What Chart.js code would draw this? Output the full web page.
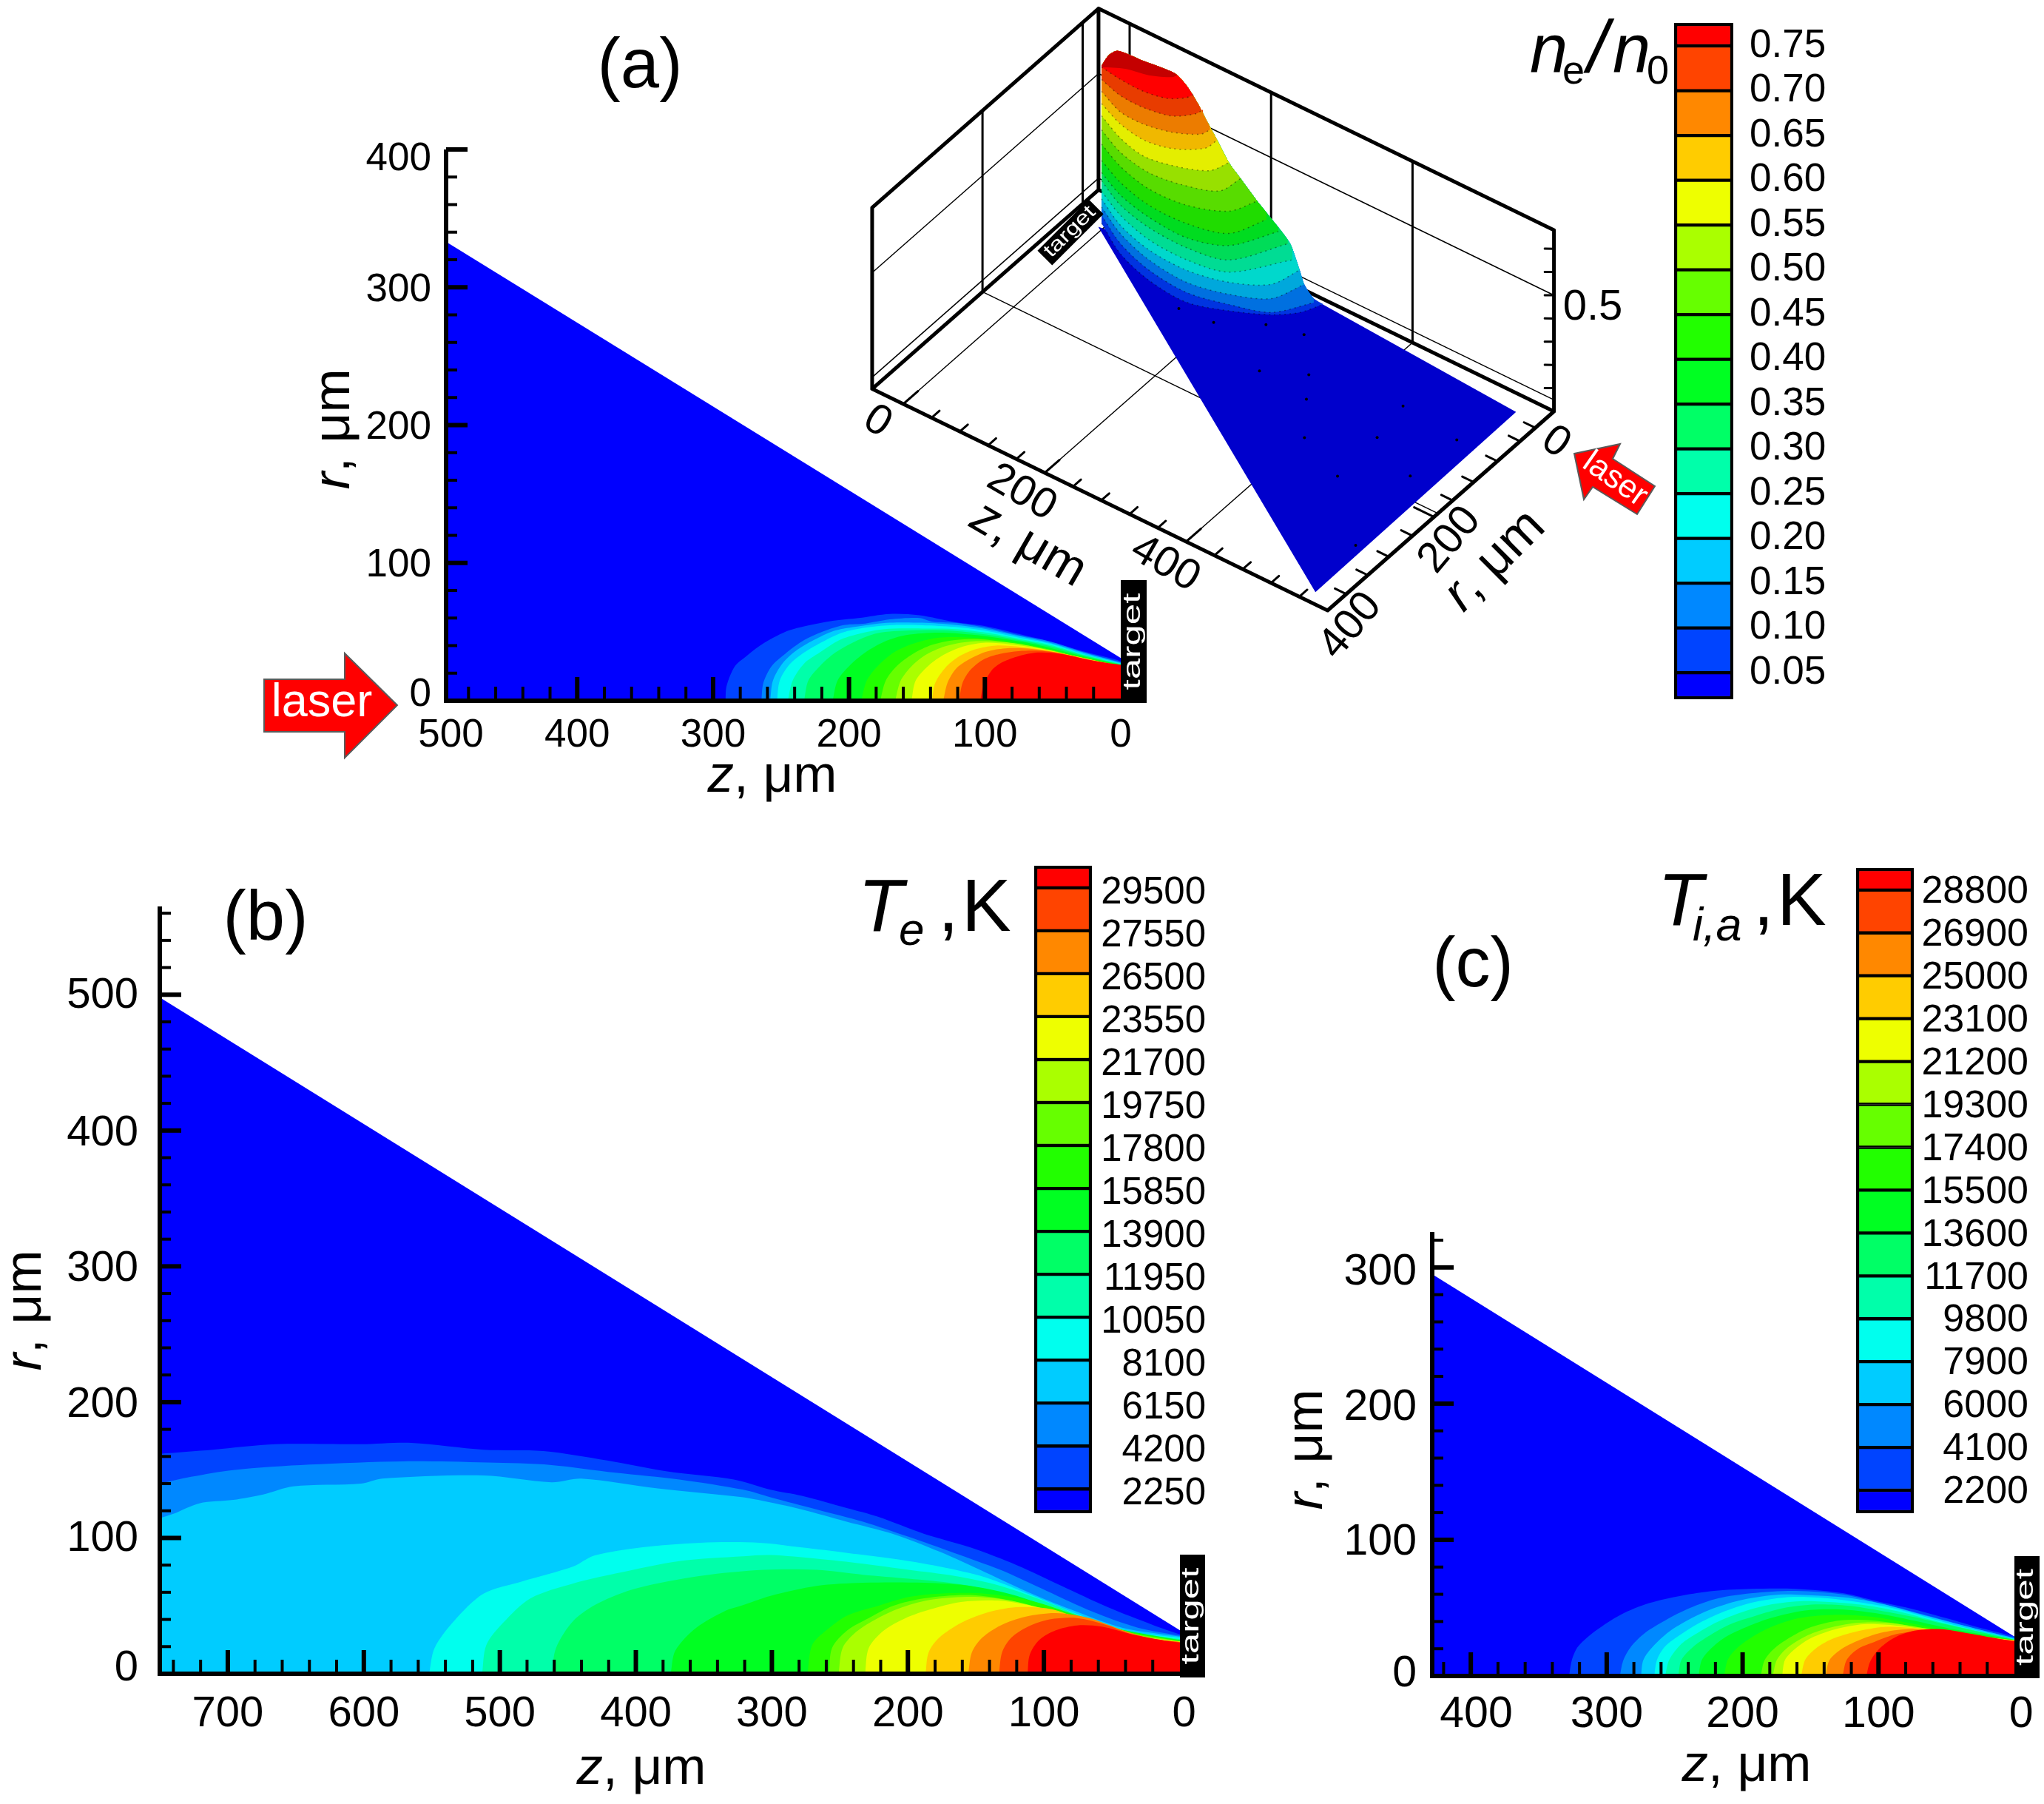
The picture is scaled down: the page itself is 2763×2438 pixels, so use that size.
<!DOCTYPE html>
<html>
<head>
<meta charset="utf-8">
<style>
  html, body { margin: 0; padding: 0; background: #fff; }
  #page { position: relative; width: 2763px; height: 2438px; overflow: hidden; }
  canvas { position: absolute; left: 0; top: 0; }
</style>
<script src="https://cdn.jsdelivr.net/npm/chart.js@4/dist/chart.umd.min.js"></script>
</head>
<body>
<div id="page"></div>
<script>
const W = 2763, H = 2438;
const FONT = '"Liberation Sans", Arial, sans-serif';

// colour bands, low to high
const bandColors = ["#0000ff", "#0044ff", "#0088ff", "#00ccff", "#00ffee", "#00ffaa", "#00ff66", "#00ff22",
    "#22ff00", "#66ff00", "#aaff00", "#eeff00", "#ffcc00", "#ff8800", "#ff4400", "#ff0000"];
const shadedColors = ["#0000cc", "#0034e0", "#0070e0", "#00a8dc", "#00d8cc", "#00dc94", "#00dc58", "#00dc20",
    "#20dc00", "#58dc00", "#98e000", "#e4ee00", "#f0b800", "#ec7c00", "#e83c00", "#ff0000", "#c40000"];

// colour bar labels, top to bottom
const neLabels = ["0.75", "0.70", "0.65", "0.60", "0.55", "0.50", "0.45", "0.40", "0.35", "0.30", "0.25", "0.20", "0.15", "0.10", "0.05"];
const teLabels = ["29500", "27550", "26500", "23550", "21700", "19750", "17800", "15850", "13900", "11950", "10050", "8100", "6150", "4200", "2250"];
const tiLabels = ["28800", "26900", "25000", "23100", "21200", "19300", "17400", "15500", "13600", "11700", "9800", "7900", "6000", "4100", "2200"];

// panel (a): edge of the domain and contour edges [z, r], one list per level from 0044ff up
const neEdge = [[496.5, 333], [0, 31]];
const neContours = [
    [[291,0],[290,11],[284,25],[276,32],[264,41],[247,50],[233,54],[212,58],[193,60],[170,63],[148,62],[122,57],[99,54],[75,48.5],[52,43],[28,36],[4,30],[0,28.5]],
    [[264.5,0],[263,13],[257,25],[247,34],[233,44],[217,51],[203,55],[188,56],[170,59],[148,60],[139,57.5],[122,56.5],[99,53],[75,47.5],[52,43],[28,35.5],[4,29],[0,28]],
    [[258,0],[256,14.5],[249,27],[238,37],[224,45],[210,51],[193,54],[170,56.6],[146,56.6],[122,55],[99,52],[75,47],[52,42],[28,35],[0,27.5]],
    [[253,0],[251,14.5],[244,26],[233,35],[219,43],[205,49.4],[188,53],[170,54.8],[146,54.8],[122,53.5],[99,50.7],[75,45.8],[52,41.3],[28,34],[0,27]],
    [[245,0],[241.5,14.5],[233,27],[221.5,35],[207,44],[193,48.5],[174,52],[146,52.4],[122,52],[99,49.4],[75,45],[52,40.5],[28,33.6],[0,26.7]],
    [[233,0],[230,14.5],[221.5,25],[210,35],[195.5,43],[179,49],[155,51],[127,51],[99,48],[75,44],[52,39.6],[28,33],[0,26.3]],
    [[212,0],[208.5,14.5],[200,25],[188,35],[174,42.8],[158,47.6],[134,49.4],[110.5,48],[87,45],[63,41],[28,32.4],[0,26]],
    [[191,0],[187,14.5],[179,25],[167,35],[153,41.3],[134,45.8],[110.5,45.8],[87,43.7],[63,39.6],[28,31.5],[0,25.8]],
    [[177,0],[173,14.5],[165,25],[153,34],[139,40.5],[122,44],[103,44.6],[80,41.7],[52,37],[28,30.6],[0,25.6]],
    [[166,0],[162,14.5],[154,25],[144,33],[129,39.6],[110.5,43],[89,42.8],[68,40],[44,34.5],[0,25]],
    [[154,0],[151,14.5],[142,25],[132,32.4],[118,38.7],[101,42],[82,41],[59,37.8],[37,33],[0,25]],
    [[139,0],[136.5,13],[129,24],[120,31.5],[108,37],[92,40],[73,39],[52,36],[30,31.7],[0,25]],
    [[130.6,0],[127.5,13],[121,23.5],[110.5,30.6],[99,35.6],[85,38],[68,37.8],[47,35],[28,30.6],[0,25]],
    [[119,0],[116.4,13],[110.5,22.5],[101,30],[89,34],[75,36],[56,36],[37,32.8],[21,29],[0,25]],
    [[103.4,0],[101,11],[95,22],[87,28],[75,32.4],[61,35],[44.4,34],[28,30.6],[14,28],[0,26]]
];

// panel (b)
const teEdge = [[750, 498], [0, 32]];
const teContours = [
    [[750,162],[711,165],[665,169],[602,169],[565,170],[512,165],[468,164],[421,157],[377,149],[328,143],[301,135.5],[278,131],[245,122],[222,115.6],[188,103],[154,93],[120,80],[87,64.7],[53,49],[19,35.6],[0,29]],
    [[750,140],[727,145],[696,150],[640,154],[571,156.4],[509,155.5],[462,153.7],[415,148],[368,143],[321,135.5],[301,130],[267,121],[233,112],[200,101],[166,89],[132,76.5],[98,61],[64,45.6],[30.5,33.8],[0,28]],
    [[750,114.6],[739.5,118],[721,125.5],[696,128],[674,132],[652,138],[602,140],[586.6,143.7],[512,146],[462,141],[440,143.7],[384,136.5],[321,130],[310,128],[278,121],[245,112],[211,103],[177,90],[143,74.7],[109,59],[75.6,45.6],[42,33.8],[0,27.4]],
    [[552,0],[548,19],[533.6,39],[512,59],[483.6,68],[446,79],[430.6,87],[396,93],[352.6,96.5],[309,96.5],[278,93],[244.5,89],[211,84.7],[177,79],[143,71],[109.4,58],[75.6,44],[42,32],[0,26.5]],
    [[513,0],[510,21],[497.7,37.4],[477.4,55.6],[446,66.5],[415,73.8],[368,83],[321,86.5],[301,87.4],[267,84.7],[233,81],[199.5,76.5],[165.7,72],[132,64.7],[98,52.9],[64,39],[30.5,30],[0,25.6]],
    [[461.8,0],[458.7,19],[446,39],[427.5,52],[399.4,62.9],[352.6,72],[305.8,76.5],[267,76.5],[233,72.9],[199.5,70],[165.7,66.5],[132,60],[98,49],[64,37.4],[30.5,29],[0,25]],
    [[374.4,0],[371,17],[355.7,33.8],[334,46.5],[323,50],[301,57.4],[267,64.7],[233,67],[188,67],[154,64.7],[120,57.4],[87,45.6],[53,34.7],[0,24.7]],
    [[273.8,0],[270.5,21],[260,32],[244.5,42.9],[222,50],[199.5,56.5],[177,59],[143,59],[109.4,53.8],[75.6,42.9],[42,32],[0,24]],
    [[258,0],[255.8,19],[244.5,32],[228.8,41],[211,50],[188,55.6],[154,58],[120,52.9],[87,42],[42,31],[0,24]],
    [[251,0],[248,19],[237.8,31],[222,41],[204,49],[181.5,54.7],[147.7,56.5],[116,52],[80,40],[42,30],[0,23.8]],
    [[231.5,0],[228.8,19],[217.5,32],[201.7,41],[183.7,47.4],[161,52.9],[131.9,53.8],[98,47.4],[64,35.6],[30.5,27.4],[0,23.6]],
    [[187,0],[184.8,15.6],[177,26.5],[161,37.4],[143,44.7],[120.6,49],[93.6,47.4],[64,36.5],[30.5,26.9],[0,23.6]],
    [[155.6,0],[153,15.6],[145.4,26.5],[131.9,35.6],[113.9,42],[91,44.7],[66.6,41],[41.8,32],[19,25.6],[0,23.4]],
    [[133,0],[130.8,15.6],[124,26.5],[111.6,34.7],[95.8,40],[75.6,41],[53,35.6],[30.5,27.4],[0,23.3]],
    [[112,0],[110.5,13.8],[103.7,24.7],[91.3,32],[75.6,35.6],[57.5,34.7],[35,29],[12.5,24.7],[0,22.9]]
];

// panel (c)
const tiEdge = [[428.4, 295], [0, 29]];
const tiContours = [
    [[327.7,0],[325.6,11.8],[321,21.7],[307.7,33.5],[289.7,45],[268.8,53.5],[245,59],[221,62.5],[194,64],[161,64],[125.5,60.7],[101.6,55],[77.7,49.8],[50.9,42.6],[24,35],[0,29]],
    [[290.3,0],[288,10.9],[282,21.7],[271.8,31.7],[257,40.8],[239,49.8],[218,57],[194,60.7],[161,62.5],[125.5,59.8],[101.6,54],[77.7,48],[50.9,40.8],[24,33.5],[0,28]],
    [[274.8,0],[273,11.8],[265.9,21.7],[254,32.6],[239,41.7],[221,49.8],[200,56],[173,59.8],[143,58.9],[119.5,57],[95.6,52.5],[71.8,46],[45,39],[0,27.7]],
    [[265,0],[263,11.8],[257,21.7],[245,30.8],[230,39.9],[212,48],[191,54.4],[164,58],[137.5,57],[113.6,54],[89.7,49.8],[65.8,43.5],[42,37],[0,27]],
    [[257,0],[254,11.8],[245,23.6],[233,31.7],[218,39.9],[200,47],[179,52.5],[155,55],[131.5,54],[107.6,51.6],[83.7,47],[59.8,40.8],[36,35],[0,26.8]],
    [[247.3,0],[245,11.8],[236,21.7],[224,29.9],[209,38],[191,44],[170,49.8],[146.4,52.5],[122.5,51.6],[98.6,48],[74.7,43.5],[50.9,38],[0,26.6]],
    [[232.4,0],[230,11.8],[222.6,20.8],[212,29],[197,36],[179,42.6],[155,48],[128.5,48.9],[101.6,46],[74.7,40.8],[45,34.4],[0,26.6]],
    [[213.6,0],[211,11.8],[204.6,20],[194,28],[179,36],[158,42.6],[131.5,45],[104.6,43.5],[77.7,39],[45,32.6],[0,26.5]],
    [[186.7,0],[183.7,11.8],[176,20.8],[164,29],[149.4,36],[128.5,40.8],[104.6,40.8],[77.7,37],[45,31.7],[0,26.3]],
    [[177.8,0],[174.8,11.8],[167,20.8],[154,29],[137.5,35],[116.5,39],[92.7,39],[65.8,35],[36,29.9],[0,26.3]],
    [[170.9,0],[168.8,11.8],[161.3,20],[149.4,28],[131.5,34.4],[110.6,38],[86.7,37],[59.8,33.5],[30,29],[0,26.3]],
    [[156.9,0],[154,11.8],[146.4,20],[134.5,27],[116.5,32.6],[95.6,36],[71.8,35],[45,31.7],[0,26]],
    [[139,0],[136,11.8],[127,20],[115,26],[98.6,31.7],[77.7,34.4],[53.9,32.6],[30,29],[0,26]],
    [[126.4,0],[123.4,11.8],[115,20],[103,25],[86.7,30.8],[68.8,32.6],[45,30.8],[21,28],[0,25.9]],
    [[109,0],[106,10.9],[98.6,20.8],[86.7,29],[71.8,33.5],[53.9,34.4],[36,31.7],[15,28],[0,25.4]]
];

// axis ticks, all panels count in um
const zMajorA = [400, 300, 200, 100], zMinorA = [480, 460, 440, 420, 380, 360, 340, 320, 280, 260, 240, 220, 180, 160, 140, 120, 80, 60, 40, 20];
const rMajorA = [100, 200, 300, 400], rMinorA = [20, 40, 60, 80, 120, 140, 160, 180, 220, 240, 260, 280, 320, 340, 360, 380];
const zMajorB = [700, 600, 500, 400, 300, 200, 100], zMinorB = [740, 720, 680, 660, 640, 620, 580, 560, 540, 520, 480, 460, 440, 420, 380, 360, 340, 320, 280, 260, 240, 220, 180, 160, 140, 120, 80, 60, 40, 20];
const rMajorB = [100, 200, 300, 400, 500], rMinorB = [20, 40, 60, 80, 120, 140, 160, 180, 220, 240, 260, 280, 320, 340, 360, 380, 420, 440, 460, 480, 520, 540, 560];
const zMajorC = [400, 300, 200, 100], zMinorC = [420, 380, 360, 340, 320, 280, 260, 240, 220, 180, 160, 140, 120, 80, 60, 40, 20];
const rMajorC = [100, 200, 300], rMinorC = [20, 40, 60, 80, 120, 140, 160, 180, 220, 240, 260, 280, 320];

// 3D inset of panel (a): floor triangle [z, r], ridge top line and band edges [z, n] on the r = 30 plane
const floorTop = [[-6, 48], [279, 7], [566, 24.5]];
const floorBottom = [[-6, 48], [570, 384], [566, 24.5]];
const ridgeTop = [[-17,.632],[-5.7,.70],[7.6,.739],[44.3,.749],[87.7,.761],[104.3,.734],[121,.678],[134,.62],[147.7,.563],[164.4,.49],[181,.446],[204.4,.384],[234.4,.315],[251,.27],[264.4,.176],[271,.124],[284.4,.083],[297.8,.078]];
const ridgeBands = [
    [[-15.7,-.038],[11,-.13],[51,-.184],[104.3,-.2],[164.4,-.148],[224.4,-.076],[264.4,-.007],[297.8,.078]],
    [[-15.7,-.003],[11,-.086],[51,-.14],[104.3,-.158],[164.4,-.121],[224.4,-.066],[284.4,.065]],
    [[-15.7,.032],[11,-.043],[51,-.096],[104.3,-.114],[164.4,-.077],[224.4,-.006],[271,.124]],
    [[-15.7,.067],[11,-.007],[51,-.053],[104.3,-.062],[164.4,-.025],[224.4,.055],[264.4,.176]],
    [[-15.7,.10],[11,.036],[51,-.009],[104.3,-.017],[164.4,.019],[254.4,.205]],
    [[-15.7,.145],[11,.08],[51,.043],[104.3,.035],[164.4,.071],[247.7,.264]],
    [[-15.7,.18],[11,.123],[51,.087],[104.3,.078],[164.4,.133],[234.4,.297]],
    [[-15.7,.232],[11,.177],[51,.139],[104.3,.139],[164.4,.185],[217.7,.324]],
    [[-15.7,.303],[11,.246],[51,.209],[104.3,.218],[164.4,.281],[204.4,.384]],
    [[-15.7,.364],[11,.307],[51,.279],[97.6,.296],[151,.348],[181,.446]],
    [[-15.7,.425],[11,.368],[44.3,.339],[91,.364],[137.6,.416],[164.4,.49]],
    [[-15.7,.477],[11,.429],[44.3,.409],[84.3,.432],[131,.503],[147.7,.562]],
    [[-15.7,.53],[11,.481],[44.3,.477],[84.3,.502],[124.3,.553],[137.6,.591]],
    [[-15.7,.581],[11,.551],[44.3,.548],[84.3,.572],[117.6,.631],[127.6,.663]],
    [[-15.7,.634],[11,.621],[44.3,.618],[77.6,.638],[104.3,.681],[114.3,.71]],
    [[-15.7,.634],[17.6,.676],[51,.698],[84.3,.739],[91,.757]]
];
const floorDots = [[290,133],[339,107],[362,140],[457,88],[400,191],[466,145],[541,98],[470,220],[536,174],[558,298],[248,69],[293,58],[198,99],[152,103]];
const zGrid3d = [0, 200, 400];
const rGrid3d = [28, 205];
const zTicks3d = [0, 40, 80, 120, 160, 200, 240, 280, 320, 360, 400, 440, 480, 520, 560];
const rTicks3d = [33, 60, 100, 142, 179, 212, 250, 292, 329, 367];
const nTicks3d = [.1, .2, .3, .4, .5, .6, .7];

const z0 = -44, z1 = 600, r0 = 0, r1 = 400, n1 = .78;

// view of the inset box, page pixels per data unit
function project(z, r, n) {
    return { x: 1527 + .956 * z - .765 * r, y: 277 + .465 * z + .6725 * r - 314 * n };
}

function segments(list) {
    const out = [];
    list.forEach(seg => {
        seg.forEach(p => out.push(project(p[0], p[1], p[2])));
        out.push({ x: null, y: null });
    });
    return out;
}

function pageCanvas() {
    const c = document.createElement("canvas");
    c.width = W;
    c.height = H;
    document.getElementById("page").appendChild(c);
    return c;
}

function textRuns(ctx, runs, cx, cy, angle, color) {
    ctx.save();
    ctx.translate(cx, cy);
    ctx.rotate((angle || 0) * Math.PI / 180);
    ctx.fillStyle = color || "#000";
    ctx.textBaseline = "middle";
    ctx.textAlign = "left";
    let total = 0;
    runs.forEach(r => { ctx.font = r.font; total += ctx.measureText(r.t).width; });
    let x = -total / 2;
    runs.forEach(r => {
        ctx.font = r.font;
        ctx.fillText(r.t, x, 0);
        x += ctx.measureText(r.t).width;
    });
    ctx.restore();
}

function rUnit(size) {
    return [{ t: "r", font: "italic " + size + "px " + FONT }, { t: ", μm", font: size + "px " + FONT }];
}

function zUnit(size) {
    return [{ t: "z", font: "italic " + size + "px " + FONT }, { t: ", μm", font: size + "px " + FONT }];
}

function plain(ctx, t, x, y, font, align) {
    ctx.font = font;
    ctx.textAlign = align || "left";
    ctx.textBaseline = "alphabetic";
    ctx.fillStyle = "#000";
    ctx.fillText(t, x, y);
}

function targetBox(ctx, left, top, right, bottom) {
    ctx.fillStyle = "#000";
    ctx.fillRect(left, top, right - left, bottom - top);
    ctx.save();
    ctx.translate((left + right) / 2, (top + bottom) / 2);
    ctx.rotate(-Math.PI / 2);
    ctx.scale(1.55, 1);
    ctx.font = "33px " + FONT;
    ctx.textAlign = "center";
    ctx.textBaseline = "middle";
    ctx.fillStyle = "#fff";
    ctx.fillText("target", 0, -1);
    ctx.restore();
}

function arrow(ctx, pts) {
    ctx.beginPath();
    pts.forEach((p, i) => i ? ctx.lineTo(p[0], p[1]) : ctx.moveTo(p[0], p[1]));
    ctx.closePath();
    ctx.fillStyle = "#ff0000";
    ctx.fill();
    ctx.lineWidth = 2;
    ctx.strokeStyle = "#5a5a5a";
    ctx.stroke();
}

function contourChart(area, opts) {
    const xScale = {
        type: "linear", reverse: true, min: 0, max: opts.zMax,
        grid: { display: false, drawTicks: false }, border: { display: false },
        ticks: {
            font: { family: FONT, size: opts.fontSize }, color: "#000", autoSkip: false, maxRotation: 0, padding: opts.xPad,
            callback: (v, i) => opts.zLabels[i]
        },
        afterBuildTicks: axis => { axis.ticks = opts.zLabelAt.map(v => ({ value: v })); },
        afterFit: axis => { axis.height = 100; axis.paddingLeft = 0; axis.paddingRight = 0; }
    };
    const yScale = {
        type: "linear", min: 0, max: opts.rMax,
        grid: { display: false, drawTicks: false }, border: { display: false },
        ticks: {
            font: { family: FONT, size: opts.fontSize }, color: "#000", autoSkip: false, padding: opts.yPad,
            callback: (v, i) => opts.rLabels[i]
        },
        afterBuildTicks: axis => { axis.ticks = opts.rLabelAt.map(v => ({ value: v })); },
        afterFit: axis => { axis.width = 150; axis.paddingTop = 0; axis.paddingBottom = 0; }
    };

    const datasets = [{
        data: opts.edge.map(p => ({ x: p[0], y: p[1] })),
        backgroundColor: bandColors[0], fill: "origin", borderWidth: 0, pointRadius: 0, tension: 0, order: 100
    }];
    opts.contours.forEach((level, i) => {
        datasets.push({
            data: level.map(p => ({ x: p[0], y: p[1] })),
            backgroundColor: bandColors[i + 1], fill: "origin", borderWidth: 0, pointRadius: 0, tension: .3, order: 99 - i
        });
    });

    const frame = {
        id: "frame",
        afterDatasetsDraw(chart) {
            const ctx = chart.ctx, xs = chart.scales.x, ys = chart.scales.y, ca = chart.chartArea;
            const hTick = (v, len, w) => {
                const y = ys.getPixelForValue(v);
                ctx.lineWidth = w;
                ctx.beginPath(); ctx.moveTo(ca.left, y); ctx.lineTo(ca.left + len, y); ctx.stroke();
            };
            const vTick = (v, len, w) => {
                const x = xs.getPixelForValue(v);
                ctx.lineWidth = w;
                ctx.beginPath(); ctx.moveTo(x, ca.bottom); ctx.lineTo(x, ca.bottom - len); ctx.stroke();
            };
            ctx.save();
            ctx.strokeStyle = "#000";
            opts.zMinor.forEach(v => vTick(v, 19, 4));
            opts.zMajor.forEach(v => vTick(v, 32, 6));
            opts.rMinor.forEach(v => hTick(v, 15, 4));
            opts.rMajor.forEach(v => hTick(v, 29, 6));
            ctx.lineWidth = 6;
            ctx.beginPath();
            ctx.moveTo(ca.left, ca.top);
            ctx.lineTo(ca.left, ca.bottom);
            ctx.lineTo(ca.right, ca.bottom);
            ctx.stroke();
            ctx.restore();
        },
        afterDraw(chart) { opts.overlay(chart.ctx); }
    };

    return new Chart(pageCanvas(), {
        type: "line",
        data: { datasets },
        plugins: [frame],
        options: {
            responsive: false, animation: false, devicePixelRatio: 1,
            layout: {
                autoPadding: false,
                padding: { left: area.left - 150, right: W - area.right, top: area.top, bottom: H - area.bottom - 100 }
            },
            plugins: { legend: { display: false }, tooltip: { enabled: false } },
            scales: { x: xScale, y: yScale }
        }
    });
}

function colorBar(box, labels, colors, ymin, ymax, align, pad, size, labelWidth, shift) {
    const datasets = colors.map((c, i) => ({
        data: [[i === 0 ? ymin : i - 1, i === colors.length - 1 ? ymax : i]],
        backgroundColor: c, borderColor: "#000", borderWidth: 2.5, borderSkipped: false,
        barPercentage: 1, categoryPercentage: 1, grouped: false
    }));
    const frame = {
        id: "barFrame",
        afterDatasetsDraw(chart) {
            const ctx = chart.ctx, ca = chart.chartArea;
            ctx.save();
            ctx.strokeStyle = "#000";
            ctx.lineWidth = 4;
            ctx.strokeRect(ca.left, ca.top, ca.right - ca.left, ca.bottom - ca.top);
            ctx.restore();
        }
    };
    const bottomUp = labels.slice().reverse();
    return new Chart(pageCanvas(), {
        type: "bar",
        data: { labels: [""], datasets },
        plugins: [frame],
        options: {
            responsive: false, animation: false, devicePixelRatio: 1,
            layout: {
                autoPadding: false,
                padding: { left: box.left, right: W - box.right - labelWidth, top: box.top, bottom: H - box.bottom }
            },
            plugins: { legend: { display: false }, tooltip: { enabled: false } },
            scales: {
                x: { display: false },
                y: {
                    type: "linear", position: "right", min: ymin, max: ymax,
                    grid: { display: false, drawTicks: false }, border: { display: false },
                    ticks: {
                        font: { family: FONT, size }, color: "#000", autoSkip: false, padding: pad, crossAlign: align,
                        callback: (v, i) => bottomUp[i]
                    },
                    afterBuildTicks: axis => { axis.ticks = bottomUp.map((l, i) => ({ value: i - shift })); },
                    afterFit: axis => { axis.width = labelWidth; axis.paddingTop = 0; axis.paddingBottom = 0; }
                }
            }
        }
    });
}

function insetChart() {
    const plane = 30;
    const line = (data, width, order, extra) => Object.assign({
        data, borderColor: "#000", borderWidth: width, pointRadius: 0, tension: 0, fill: false, order,
        spanGaps: false, borderCapStyle: "round", borderJoinStyle: "round"
    }, extra || {});

    const thin = [
        [[z0, r1, .5], [z0, r0, .5], [z1, r0, .5]],
        [[z0, r1, .05], [z0, r0, .05], [z1, r0, .05]],
        [[z0, 205, 0], [z1, 205, 0]]
    ];
    zGrid3d.forEach(z => thin.push([[z, r1, 0], [z, r0, 0]]));

    const walls = [];
    zGrid3d.forEach(z => walls.push([[z, r0, 0], [z, r0, n1]]));
    rGrid3d.forEach(r => walls.push([[z0, r, 0], [z0, r, n1]]));

    const edges = [
        [[z0, r1, 0], [z0, r1, n1], [z0, r0, n1], [z1, r0, n1], [z1, r0, 0], [z1, r1, 0], [z0, r1, 0], [z0, r0, 0], [z1, r0, 0]],
        [[z0, r0, 0], [z0, r0, n1]]
    ];

    const ticks = [];
    zTicks3d.forEach(z => ticks.push([[z, r1, 0], [z, r1 - (z % 200 === 0 ? 26 : 14), 0]]));
    rTicks3d.forEach(r => ticks.push([[z1, r, 0], [z1 - (r === 212 ? 28 : 16), r, 0]]));
    nTicks3d.forEach(n => ticks.push([[z1, r0, n], [z1 - 13, r0, n - .019]]));

    const datasets = [
        line(segments(thin), 1.5, 100),
        line(segments(walls), 3, 99),
        line(segments(edges), 5, 98),
        line(segments(ticks), 3, 97)
    ];

    // floor triangle, filled between its two edges
    const topIndex = datasets.length;
    datasets.push({ data: floorTop.map(p => project(p[0], p[1], 0)), borderWidth: 0, pointRadius: 0, tension: 0, fill: false, order: 60 });
    datasets.push({
        data: floorBottom.map(p => project(p[0], p[1], 0)), borderWidth: 0, pointRadius: 0, tension: 0,
        backgroundColor: shadedColors[0], fill: { target: topIndex }, order: 59
    });

    // raised part: each band fills from its lower edge up to the ridge line
    const ridgeIndex = datasets.length;
    datasets.push({ data: ridgeTop.map(p => project(p[0], plane, p[1])), borderWidth: 0, pointRadius: 0, tension: .25, fill: false, order: 50 });
    ridgeBands.forEach((band, i) => {
        datasets.push({
            data: band.map(p => project(p[0], plane, p[1])), pointRadius: 0, tension: .3,
            backgroundColor: shadedColors[i + 1], fill: { target: ridgeIndex },
            borderColor: "rgba(0,0,0,.4)", borderWidth: i < 15 ? 1.5 : 0, borderDash: [2, 5], order: 49 - i
        });
    });

    datasets.push({
        data: floorDots.map(p => project(p[0], p[1], 0)), showLine: false, pointRadius: 2,
        pointBackgroundColor: "#000", pointBorderWidth: 0, order: 20
    });

    const labels = {
        id: "insetLabels",
        afterDraw(chart) {
            const ctx = chart.ctx, f = "58px " + FONT;
            textRuns(ctx, [{ t: "0", font: f }], 1186, 570, 32);
            textRuns(ctx, [{ t: "200", font: f }], 1381, 666, 30);
            textRuns(ctx, [{ t: "400", font: f }], 1575, 762, 30);
            textRuns(ctx, zUnit(68), 1390, 736, 30);
            textRuns(ctx, [{ t: "0", font: f }], 2103, 598, 35);
            textRuns(ctx, [{ t: "200", font: f }], 1960, 730, -50);
            textRuns(ctx, [{ t: "400", font: f }], 1826, 846, -50);
            textRuns(ctx, rUnit(70), 2021, 758, -45);
            textRuns(ctx, [{ t: "0.5", font: f }], 2153, 416, 0);

            // target tag on the back edge
            ctx.save();
            ctx.translate(1447, 314);
            ctx.rotate(-45 * Math.PI / 180);
            ctx.fillStyle = "#000";
            ctx.fillRect(-49, -14, 98, 28);
            ctx.scale(1.25, 1);
            ctx.font = "27px " + FONT;
            ctx.textAlign = "center";
            ctx.textBaseline = "middle";
            ctx.fillStyle = "#fff";
            ctx.fillText("target", 0, -1);
            ctx.restore();

            arrow(ctx, [[2128, 613], [2190, 600], [2180, 620], [2237, 657], [2213, 695], [2153, 658], [2141, 675]]);
            textRuns(ctx, [{ t: "laser", font: "44px " + FONT }], 2183, 648, 35, "#fff");
        }
    };

    return new Chart(pageCanvas(), {
        type: "line",
        data: { datasets },
        plugins: [labels],
        options: {
            responsive: false, animation: false, devicePixelRatio: 1,
            layout: { autoPadding: false, padding: 0 },
            plugins: { legend: { display: false }, tooltip: { enabled: false } },
            scales: {
                x: { type: "linear", display: false, min: 0, max: W },
                y: { type: "linear", display: false, min: 0, max: H, reverse: true }
            }
        }
    });
}

contourChart({ left: 603, right: 1515, top: 202, bottom: 947 }, {
    zMax: 496.5, rMax: 400, edge: neEdge, contours: neContours, fontSize: 53,
    zLabels: ["500", "400", "300", "200", "100", "0"], zLabelAt: [493, 400, 300, 200, 100, 0],
    rLabels: ["0", "100", "200", "300", "400"], rLabelAt: [4, 98, 198, 298, 393],
    zMajor: zMajorA, zMinor: zMinorA, rMajor: rMajorA, rMinor: rMinorA, xPad: 16, yPad: 20,
    overlay: ctx => {
        targetBox(ctx, 1515, 784, 1550, 950);
        arrow(ctx, [[357, 918], [466, 918], [466, 883], [537, 953], [466, 1024], [466, 989], [357, 989]]);
        textRuns(ctx, [{ t: "laser", font: "63px " + FONT }], 435, 951, 0, "#fff");
        textRuns(ctx, [{ t: "(a)", font: "94px " + FONT }], 865, 92, 0);
        textRuns(ctx, rUnit(71), 452, 580, -90);
        textRuns(ctx, zUnit(71), 1044, 1050, 0);
    }
});

contourChart({ left: 216, right: 1595, top: 1225, bottom: 2262 }, {
    zMax: 750, rMax: 565, edge: teEdge, contours: teContours, fontSize: 58,
    zLabels: ["700", "600", "500", "400", "300", "200", "100", "0"], zLabelAt: [700, 600, 500, 400, 300, 200, 100, -3],
    rLabels: ["0", "100", "200", "300", "400", "500"], rLabelAt: [4, 99, 198, 298, 398, 499],
    zMajor: zMajorB, zMinor: zMinorB, rMajor: rMajorB, rMinor: rMinorB, xPad: 20, yPad: 29,
    overlay: ctx => {
        targetBox(ctx, 1595, 2101, 1629, 2267);
        textRuns(ctx, [{ t: "(b)", font: "94px " + FONT }], 359, 1244, 0);
        textRuns(ctx, rUnit(71), 35, 1771, -90);
        textRuns(ctx, zUnit(71), 867, 2391, 0);
    }
});

contourChart({ left: 1936, right: 2723, top: 1665, bottom: 2265 }, {
    zMax: 428.4, rMax: 326, edge: tiEdge, contours: tiContours, fontSize: 59,
    zLabels: ["400", "300", "200", "100", "0"], zLabelAt: [396, 300, 200, 100, -5],
    rLabels: ["0", "100", "200", "300"], rLabelAt: [1, 98, 197, 296],
    zMajor: zMajorC, zMinor: zMinorC, rMajor: rMajorC, rMinor: rMinorC, xPad: 17, yPad: 21,
    overlay: ctx => {
        targetBox(ctx, 2723, 2103, 2757, 2268);
        textRuns(ctx, [{ t: "(c)", font: "94px " + FONT }], 1991, 1307, 0);
        textRuns(ctx, rUnit(71), 1767, 1959, -90);
        textRuns(ctx, zUnit(71), 2361, 2387, 0);
    }
});

insetChart();

colorBar({ left: 2265, right: 2341, top: 33, bottom: 943 }, neLabels, bandColors, -.56, 14.48, "near", 24, 53, 200, 0);
colorBar({ left: 1400, right: 1474, top: 1172, bottom: 2043 }, teLabels, bandColors, -.53, 14.48, "far", 12, 51, 156, .12);
colorBar({ left: 2511, right: 2585, top: 1175, bottom: 2043 }, tiLabels, bandColors, -.5, 14.48, "far", 14, 52, 157, .05);

// field titles, on a last transparent chart so they sit above everything
new Chart(pageCanvas(), {
    type: "line",
    data: { datasets: [] },
    plugins: [{
        id: "titles",
        afterDraw(chart) {
            const ctx = chart.ctx, it = "italic 92px " + FONT;
            plain(ctx, "n", 2068, 98, it);
            plain(ctx, "e", 2112, 113, "54px " + FONT);
            plain(ctx, "/", 2146, 98, "italic 100px " + FONT);
            plain(ctx, "n", 2180, 98, it);
            plain(ctx, "0", 2226, 113, "54px " + FONT);

            plain(ctx, "T", 1160, 1258, "italic 100px " + FONT);
            plain(ctx, "e", 1215, 1277, "italic 62px " + FONT);
            plain(ctx, ",", 1268, 1258, "100px " + FONT);
            plain(ctx, "K", 1300, 1258, "100px " + FONT);

            plain(ctx, "T", 2241, 1250, "italic 100px " + FONT);
            plain(ctx, "i,a", 2288, 1271, "italic 63px " + FONT);
            plain(ctx, ",", 2370, 1250, "100px " + FONT);
            plain(ctx, "K", 2402, 1250, "100px " + FONT);
        }
    }],
    options: {
        responsive: false, animation: false, devicePixelRatio: 1,
        plugins: { legend: { display: false }, tooltip: { enabled: false } },
        scales: { x: { display: false }, y: { display: false } }
    }
});
</script>
</body>
</html>
